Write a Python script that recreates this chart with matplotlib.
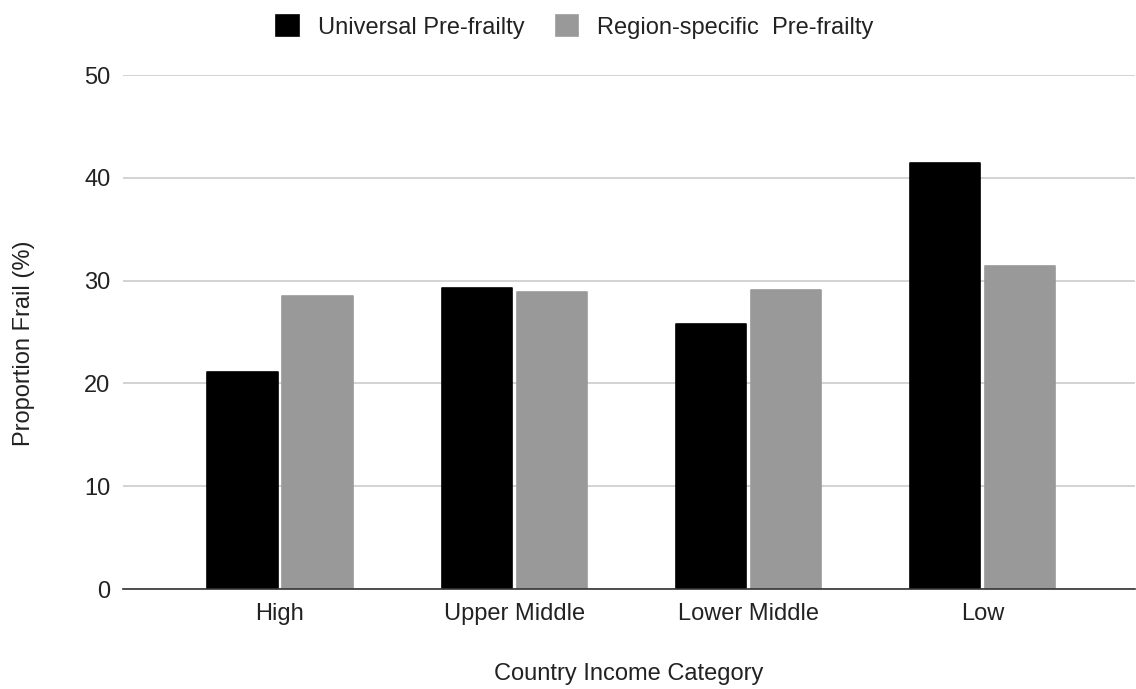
import matplotlib
matplotlib.use("Agg")
import matplotlib.pyplot as plt
import numpy as np

categories = ["High", "Upper Middle", "Lower Middle", "Low"]
universal = [21.1, 29.3, 25.8, 41.4]
region_specific = [28.5, 28.9, 29.1, 31.4]
series_labels = ["Universal Pre-frailty", "Region-specific  Pre-frailty"]
y_ticks = [0, 10, 20, 30, 40, 50]

plt.rcParams["font.family"] = ["Liberation Sans", "DejaVu Sans"]
text_color = "#222222"
fs = 17

fig = plt.figure(figsize=(11.36, 6.89), dpi=100)
ax = fig.add_axes([123 / 1136, 1 - 589 / 689, 1012 / 1136, (589 - 75) / 689])

x = np.arange(len(categories))
w = 0.30
off = 0.16
b1 = ax.bar(x - off, universal, w, color="#000000", label=series_labels[0],
            edgecolor="#000000", linewidth=1.2, joinstyle="round", zorder=3)
b2 = ax.bar(x + off, region_specific, w, color="#999999", label=series_labels[1],
            edgecolor="#999999", linewidth=1.2, joinstyle="round", zorder=3)

ax.set_ylim(0, 50)
ax.set_xlim(-0.67, 3.65)
ax.set_yticks(y_ticks)
ax.set_xticks(x)
ax.set_xticklabels(categories)
ax.yaxis.grid(True, color="#cccccc", linewidth=1.2, zorder=0)
ax.set_axisbelow(True)
for s in ["top", "right", "left"]:
    ax.spines[s].set_visible(False)
ax.spines["bottom"].set_color("#333333")
ax.spines["bottom"].set_linewidth(1.2)
ax.spines["bottom"].set_zorder(4)
ax.tick_params(axis="both", length=0, labelsize=fs, colors=text_color)
ax.tick_params(axis="y", pad=9)
ax.tick_params(axis="x", pad=10)

ax.set_xlabel("Country Income Category", fontsize=fs, color=text_color)
ax.xaxis.set_label_coords(0.5, -(663 - 589) / 514)
ax.set_ylabel("Proportion Frail (%)", fontsize=fs, color=text_color)
ax.yaxis.set_label_coords(-(123 - 35) / 1012, (589 - 343) / 514)

leg = fig.legend(handles=[b1, b2], labels=series_labels, loc="center",
                 bbox_to_anchor=(575 / 1136, 1 - 27 / 689), ncol=2, frameon=False,
                 fontsize=fs, handlelength=0.95, handleheight=0.95,
                 handletextpad=0.8, columnspacing=1.35)
for t in leg.get_texts():
    t.set_color(text_color)

fig.savefig("out.png", dpi=100)
